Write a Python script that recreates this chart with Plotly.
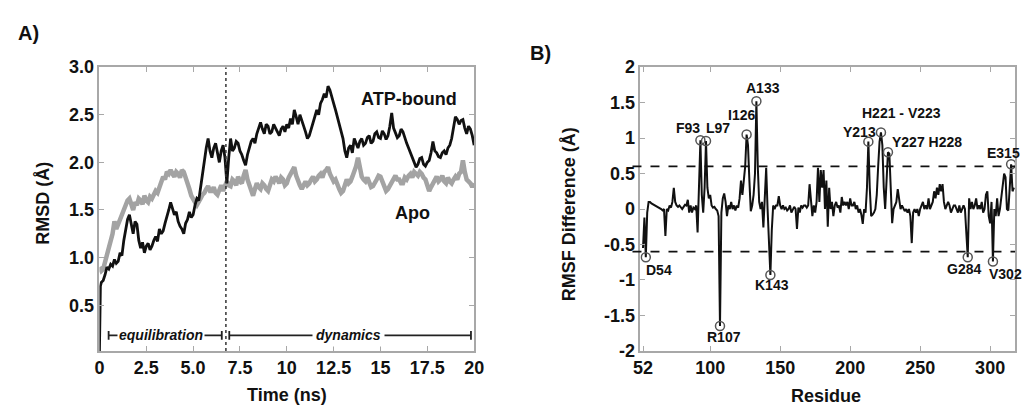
import plotly.graph_objects as go

# ---------------- Panel A data: RMSD vs time ----------------
time_grid = [round(0.1 * i, 1) for i in range(201)]
time_atp = [0.0, 0.05] + time_grid[1:]
rmsd_atp = [
    0.02, 0.70,
    0.74, 0.76, 0.82, 0.90, 0.88, 0.93, 0.91, 0.98, 0.94, 0.96,   # 0.1-1.0
    1.05, 1.02, 1.18, 1.30, 1.40, 1.45, 1.35, 1.25, 1.38, 1.35,   # 1.1-2.0
    1.18, 1.10, 1.16, 1.05, 1.12, 1.15, 1.08, 1.12, 1.18, 1.22,   # 2.1-3.0
    1.17, 1.30, 1.25, 1.28, 1.36, 1.42, 1.50, 1.58, 1.52, 1.45,   # 3.1-4.0
    1.48, 1.38, 1.33, 1.30, 1.25, 1.36, 1.40, 1.48, 1.42, 1.45,   # 4.1-5.0
    1.55, 1.62, 1.60, 1.75, 1.88, 2.00, 2.15, 2.25, 2.12, 2.05,   # 5.1-6.0
    2.15, 2.20, 2.08, 2.00, 2.12, 2.18, 2.05, 1.78, 2.05, 2.25,   # 6.1-7.0
    2.12, 2.15, 2.22, 2.20, 2.12, 2.08, 2.02, 1.97, 2.08, 2.15,   # 7.1-8.0
    2.22, 2.25, 2.20, 2.30, 2.36, 2.42, 2.35, 2.30, 2.40, 2.38,   # 8.1-9.0
    2.30, 2.32, 2.40, 2.36, 2.32, 2.28, 2.35, 2.38, 2.32, 2.40,   # 9.1-10.0
    2.36, 2.46, 2.40, 2.55, 2.48, 2.40, 2.50, 2.45, 2.38, 2.32,   # 10.1-11.0
    2.25, 2.28, 2.35, 2.40, 2.48, 2.55, 2.50, 2.62, 2.66, 2.72,   # 11.1-12.0
    2.68, 2.80, 2.76, 2.70, 2.62, 2.55, 2.48, 2.40, 2.32, 2.25,   # 12.1-13.0
    2.12, 2.05, 2.15, 2.18, 2.10, 2.25, 2.20, 2.15, 2.22, 2.25,   # 13.1-14.0
    2.18, 2.20, 2.26, 2.28, 2.20, 2.22, 2.30, 2.32, 2.26, 2.25,   # 14.1-15.0
    2.33, 2.30, 2.24, 2.28, 2.38, 2.52, 2.36, 2.30, 2.26, 2.28,   # 15.1-16.0
    2.35, 2.32, 2.25, 2.20, 2.15, 2.10, 2.05, 2.00, 1.95, 1.98,   # 16.1-17.0
    2.04, 2.05, 1.98, 1.96, 2.00, 2.02, 2.10, 2.22, 2.12, 2.10,   # 17.1-18.0
    2.06, 2.05, 2.10, 2.12, 2.08, 2.15, 2.18, 2.25, 2.38, 2.48,   # 18.1-19.0
    2.45, 2.40, 2.44, 2.45, 2.36, 2.30, 2.38, 2.35, 2.28, 2.18,   # 19.1-20.0
]

time_apo = time_grid
rmsd_apo = [
    0.90,
    0.86, 0.88, 0.95, 1.05, 1.12, 1.20, 1.25, 1.38, 1.30, 1.35,   # 0.1-1.0
    1.40, 1.45, 1.52, 1.55, 1.60, 1.62, 1.55, 1.50, 1.58, 1.55,   # 1.1-2.0
    1.62, 1.60, 1.56, 1.65, 1.60, 1.58, 1.64, 1.62, 1.66, 1.70,   # 2.1-3.0
    1.68, 1.75, 1.80, 1.85, 1.82, 1.90, 1.88, 1.92, 1.88, 1.85,   # 3.1-4.0
    1.90, 1.88, 1.84, 1.92, 1.90, 1.85, 1.78, 1.72, 1.65, 1.60,   # 4.1-5.0
    1.58, 1.55, 1.60, 1.62, 1.66, 1.68, 1.72, 1.75, 1.70, 1.70,   # 5.1-6.0
    1.74, 1.68, 1.66, 1.72, 1.76, 1.70, 1.74, 1.80, 1.76, 1.75,   # 6.1-7.0
    1.82, 1.80, 1.76, 1.85, 1.80, 1.78, 1.86, 1.92, 1.82, 1.75,   # 7.1-8.0
    1.70, 1.65, 1.72, 1.78, 1.74, 1.72, 1.78, 1.76, 1.72, 1.70,   # 8.1-9.0
    1.76, 1.82, 1.80, 1.85, 1.82, 1.78, 1.84, 1.82, 1.76, 1.78,   # 9.1-10.0
    1.84, 1.88, 1.92, 1.95, 1.86, 1.80, 1.76, 1.72, 1.76, 1.80,   # 10.1-11.0
    1.76, 1.78, 1.82, 1.85, 1.80, 1.82, 1.86, 1.88, 1.84, 1.90,   # 11.1-12.0
    1.92, 1.95, 1.88, 1.85, 1.80, 1.82, 1.76, 1.72, 1.68, 1.70,   # 12.1-13.0
    1.76, 1.82, 1.78, 1.80, 1.85, 1.90, 1.96, 2.05, 1.92, 1.85,   # 13.1-14.0
    1.82, 1.80, 1.84, 1.78, 1.74, 1.75, 1.80, 1.82, 1.86, 1.85,   # 14.1-15.0
    1.80, 1.75, 1.70, 1.72, 1.76, 1.80, 1.84, 1.86, 1.82, 1.82,   # 15.1-16.0
    1.78, 1.78, 1.84, 1.82, 1.86, 1.88, 1.84, 1.90, 1.88, 1.86,   # 16.1-17.0
    1.90, 1.88, 1.84, 1.82, 1.76, 1.70, 1.74, 1.78, 1.82, 1.85,   # 17.1-18.0
    1.80, 1.82, 1.86, 1.80, 1.78, 1.84, 1.80, 1.78, 1.82, 1.85,   # 18.1-19.0
    1.82, 1.88, 1.90, 2.02, 1.90, 1.82, 1.80, 1.78, 1.74, 1.78,   # 19.1-20.0
]

time_ticks = [0, 2.5, 5, 7.5, 10, 12.5, 15, 17.5, 20]
time_tick_text = ["0", "2.5", "5.0", "7.5", "10", "12.5", "15", "17.5", "20"]
rmsd_ticks = [0.5, 1.0, 1.5, 2.0, 2.5, 3.0]
rmsd_tick_text = ["0.5", "1.0", "1.5", "2.0", "2.5", "3.0"]
equil_end = 6.75

# ---------------- Panel B data: RMSF difference per residue ----------------
residues = list(range(52, 318))
rmsf_diff = [
    -0.55, -0.12, -0.68, -0.05, 0.10, 0.10, 0.08, 0.07, 0.06, 0.05,   # 52-61
    0.04, 0.03, 0.02, 0.00, -0.02, 0.00, -0.38, 0.00, -0.02, 0.05,    # 62-71
    0.02, 0.10, 0.30, 0.10, 0.05, 0.03, 0.05, 0.02, 0.00, 0.03,       # 72-81
    0.06, 0.05, 0.13, -0.05, 0.05, -0.05, 0.02, 0.00, 0.05, -0.33,    # 82-91
    0.20, 0.97, 0.20, -0.05, 0.30, 0.96, 0.30, 0.15, 0.20, 0.05,      # 92-101
    0.02, 0.03, 0.00, -0.02, -0.10, -1.65, -0.05, 0.15, 0.22, 0.10,   # 102-111
    -0.10, 0.05, 0.00, 0.10, 0.00, 0.05, -0.02, 0.05, 0.02, 0.15,     # 112-121
    0.40, 0.20, 0.40, 0.60, 1.05, 0.90, 0.40, -0.03, 0.05, 0.20,      # 122-131
    0.50, 1.52, 0.60, 0.10, 0.00, 0.10, -0.26, 0.10, 0.58, 0.00,      # 132-141
    -0.60, -0.93, -0.30, 0.05, 0.00, 0.05, 0.05, 0.18, 0.05, 0.00,    # 142-151
    0.05, 0.00, 0.02, -0.02, 0.00, 0.05, -0.05, 0.00, 0.03, 0.00,     # 152-161
    -0.28, 0.02, -0.05, 0.05, 0.02, 0.05, 0.05, 0.02, 0.05, 0.35,     # 162-171
    0.05, -0.10, 0.05, -0.05, 0.10, 0.58, 0.10, 0.55, 0.30, 0.55,     # 172-181
    0.00, 0.40, -0.25, 0.30, 0.00, 0.10, -0.10, 0.05, 0.10, 0.02,     # 182-191
    0.05, -0.05, 0.17, 0.05, 0.10, 0.05, 0.10, 0.00, 0.15, 0.05,      # 192-201
    0.05, 0.10, 0.00, 0.05, -0.05, 0.00, -0.08, -0.21, 0.00, -0.05,   # 202-211
    0.30, 0.95, 0.30, -0.10, -0.08, -0.05, 0.00, 0.20, 0.60, 0.95,    # 212-221
    1.08, 0.90, 0.30, 0.00, 0.40, 0.80, 0.78, 0.20, -0.20, 0.00,      # 222-231
    0.05, 0.10, 0.28, 0.10, 0.00, 0.05, 0.00, -0.03, 0.00, -0.05,     # 232-241
    0.00, -0.10, -0.48, -0.05, 0.00, -0.05, 0.00, -0.10, 0.00, 0.05,  # 242-251
    0.10, 0.00, 0.05, 0.00, 0.15, 0.00, 0.05, 0.10, 0.25, 0.15,       # 252-261
    0.30, 0.20, 0.35, 0.25, 0.35, 0.10, 0.00, 0.05, 0.10, 0.05,       # 262-271
    -0.05, 0.00, 0.05, 0.05, 0.00, -0.05, 0.05, -0.05, 0.00, 0.05,    # 272-281
    0.00, -0.30, -0.68, 0.15, 0.00, 0.10, 0.00, 0.05, 0.15, 0.00,     # 282-291
    0.05, 0.00, 0.10, -0.05, 0.00, 0.20, 0.25, -0.10, -0.20, 0.10,    # 292-301
    -0.74, 0.00, -0.10, 0.15, -0.10, 0.00, 0.20, 0.40, 0.50, 0.45,    # 302-311
    0.00, -0.02, 0.30, 0.63, 0.25, 0.30,                              # 312-317
]
marked_residues = [54, 93, 97, 107, 126, 133, 143, 213, 222, 227, 284, 302, 315]
threshold = 0.6
res_ticks = [52, 100, 150, 200, 250, 300]
rmsf_ticks = [-2, -1.5, -1, -0.5, 0, 0.5, 1, 1.5, 2]
rmsf_tick_text = ["-2", "-1.5", "-1", "-0.5", "0", "0.5", "1", "1.5", "2"]

# labels: (text, residue, value, xanchor)
peak_labels = [
    ("D54", 63.5, -0.86, "center"),
    ("F93", 83.8, 1.14, "center"),
    ("L97", 105.6, 1.14, "center"),
    ("I126", 122.5, 1.33, "center"),
    ("A133", 138.0, 1.70, "center"),
    ("R107", 109.8, -1.80, "center"),
    ("K143", 144.3, -1.07, "center"),
    ("Y213", 206.8, 1.09, "center"),
    ("H221 - V223", 237.0, 1.36, "center"),
    ("Y227 H228", 254.6, 0.95, "center"),
    ("G284", 281.3, -0.85, "center"),
    ("E315", 296.0, 0.79, "left"),
    ("V302", 297.5, -0.91, "left"),
]

FONT = "Arial, Liberation Sans, sans-serif"
W, H = 1028, 419


def px(x):
    return x / W


def py(y):
    return 1 - y / H


fig = go.Figure()

fig.add_trace(go.Scatter(x=time_apo, y=rmsd_apo, mode="lines",
                         line=dict(color="#a3a3a3", width=4.5), xaxis="x", yaxis="y",
                         showlegend=False))
fig.add_trace(go.Scatter(x=time_atp, y=rmsd_atp, mode="lines",
                         line=dict(color="#111111", width=2.8), xaxis="x", yaxis="y",
                         showlegend=False))

fig.add_trace(go.Scatter(x=residues, y=rmsf_diff, mode="lines",
                         line=dict(color="#111111", width=2.0), xaxis="x2", yaxis="y2",
                         showlegend=False))
mark_vals = [rmsf_diff[residues.index(r)] for r in marked_residues]
fig.add_trace(go.Scatter(x=marked_residues, y=mark_vals, mode="markers",
                         marker=dict(symbol="circle-open", size=9, color="#555555",
                                     line=dict(width=1.5, color="#555555")),
                         xaxis="x2", yaxis="y2", showlegend=False))

tickfont = dict(family=FONT, size=18, color="#111111", weight="bold")
axis_common = dict(showline=True, mirror="ticks", linecolor="#a8a8a8", linewidth=1.5,
                   ticks="inside", ticklen=5, tickcolor="#a8a8a8", tickwidth=1,
                   showgrid=False, zeroline=False, tickfont=tickfont)

fig.update_layout(
    width=W, height=H,
    margin=dict(l=0, r=0, t=0, b=0),
    paper_bgcolor="white", plot_bgcolor="white",
    xaxis=dict(domain=[px(94), px(475)], range=[0, 20], tickvals=time_ticks,
               ticktext=time_tick_text, anchor="y", **axis_common),
    yaxis=dict(domain=[py(358), py(60)], range=[0.02, 3.0], tickvals=rmsd_ticks,
               ticktext=rmsd_tick_text, anchor="x", **axis_common),
    xaxis2=dict(domain=[px(644), px(1025)], range=[50.1, 317.8], tickvals=res_ticks,
                anchor="y2", **axis_common),
    yaxis2=dict(domain=[py(358), py(60)], range=[-2, 2], tickvals=rmsf_ticks,
                ticktext=rmsf_tick_text, anchor="x2", **axis_common),
)

shapes = []
shapes.append(dict(type="line", xref="x", yref="y", x0=equil_end, x1=equil_end,
                   y0=0.02, y1=3.0, line=dict(color="#333333", width=1.5, dash="dot")))
yb = 0.183
for (a, b) in [(0.49, 6.53), (6.93, 19.83)]:
    shapes.append(dict(type="line", xref="x", yref="y", x0=a, x1=b, y0=yb, y1=yb,
                       line=dict(color="#222222", width=1.8)))
    for e in (a, b):
        shapes.append(dict(type="line", xref="x", yref="y", x0=e, x1=e, y0=yb - 0.045,
                           y1=yb + 0.045, line=dict(color="#222222", width=1.8)))
for t in (threshold, -threshold):
    shapes.append(dict(type="line", xref="paper", yref="y2", x0=px(636), x1=px(1025),
                       y0=t, y1=t, line=dict(color="#111111", width=1.8, dash="dash")))
fig.update_layout(shapes=shapes)

ann = []
bold18 = dict(family=FONT, size=18, color="#111111", weight="bold")


def paper_text(text, x, y, font, angle=0):
    return dict(text=text, xref="paper", yref="paper", x=px(x), y=py(y),
                xanchor="center", yanchor="middle", textangle=angle,
                showarrow=False, font=font)


ann.append(paper_text("A)", 22, 24, dict(family=FONT, size=20, color="#111111", weight="bold")))
ann.append(paper_text("B)", 542, 45, dict(family=FONT, size=20, color="#111111", weight="bold")))
ann.append(paper_text("RMSD (Å)", 37, 203, bold18, -90))
ann.append(paper_text("Time (ns)", 285, 404, bold18))
ann.append(paper_text("RMSF Difference (Å)", 571, 215, bold18, -90))
ann.append(paper_text("Residue", 833, 405, bold18))
ann.append(dict(text="ATP-bound", xref="x", yref="y", x=16.5, y=2.67,
                xanchor="center", yanchor="middle", showarrow=False, font=bold18))
ann.append(dict(text="Apo", xref="x", yref="y", x=16.7, y=1.47,
                xanchor="center", yanchor="middle", showarrow=False, font=bold18))
ital = dict(family=FONT, size=14, color="#111111", weight="bold", style="italic")
ann.append(dict(text="equilibration", xref="x", yref="y", x=3.3, y=yb,
                xanchor="center", yanchor="middle",
                showarrow=False, font=ital, bgcolor="white", borderpad=1))
ann.append(dict(text="dynamics", xref="x", yref="y", x=13.3, y=yb,
                xanchor="center", yanchor="middle",
                showarrow=False, font=ital, bgcolor="white", borderpad=3))
lab_font = dict(family=FONT, size=14, color="#111111", weight="bold")
for text, xr, yv, xa in peak_labels:
    ann.append(dict(text=text, xref="x2", yref="y2", x=xr, y=yv, xanchor=xa,
                    yanchor="middle", showarrow=False, font=lab_font))
fig.update_layout(annotations=ann)

# remove the default page margin so the 1028x419 figure fills the window exactly
page_fix = ("document.documentElement.style.margin='0';document.body.style.margin='0';"
            "document.documentElement.style.overflow='hidden';document.body.style.overflow='hidden';")

fig.write_html("out.html", post_script=page_fix, config={"displayModeBar": False})
